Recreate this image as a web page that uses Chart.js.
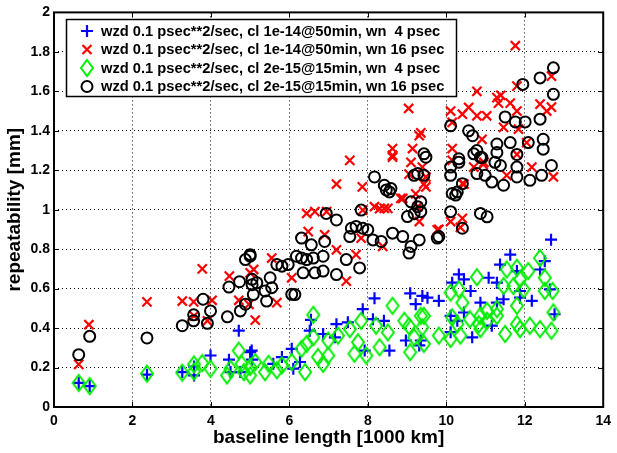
<!DOCTYPE html>
<html>
<head>
<meta charset="utf-8">
<script src="https://cdn.jsdelivr.net/npm/chart.js@4.4.0/dist/chart.umd.min.js"></script>
<style>
  body { margin: 0; background: #fff; }
</style>
</head>
<body>
<canvas id="repet" width="617" height="453"></canvas>
<script>
// series labels (legend)
const seriesLabels = [
  "wzd 0.1 psec**2/sec, cl 1e-14@50min, wn  4 psec",
  "wzd 0.1 psec**2/sec, cl 1e-14@50min, wn 16 psec",
  "wzd 0.1 psec**2/sec, cl 2e-15@15min, wn  4 psec",
  "wzd 0.1 psec**2/sec, cl 2e-15@15min, wn 16 psec"
];
const xTicks = [0, 2, 4, 6, 8, 10, 12, 14];
const yTicks = [0, 0.2, 0.4, 0.6, 0.8, 1, 1.2, 1.4, 1.6, 1.8, 2];

// blue +  (cl 1e-14, wn 4)
const plusX = [0.63,0.91,2.37,3.27,3.57,3.57,3.99,4.46,4.5,4.71,4.75,5.0,5.05,5.04,5.59,5.81,6.06,6.1,6.27,6.52,
  6.55,6.86,7.16,7.2,7.49,7.87,7.92,8.13,8.17,8.41,8.55,8.97,9.08,9.22,9.31,9.39,9.35,9.52,9.81,10.11,
  10.11,10.15,10.28,10.32,10.45,10.45,10.62,10.66,10.87,11.08,11.16,11.29,11.29,11.37,11.46,11.63,11.8,11.88,11.88,12.18,
  12.39,12.51,12.64,12.67,12.76];
const plusY = [0.122,0.106,0.164,0.177,0.16,0.205,0.261,0.24,0.177,0.387,0.177,0.278,0.24,0.286,0.219,0.253,0.295,0.194,0.228,0.387,
  0.442,0.37,0.353,0.42,0.429,0.496,0.286,0.445,0.551,0.437,0.286,0.337,0.576,0.521,0.312,0.563,0.337,0.554,0.538,0.462,
  0.379,0.63,0.437,0.672,0.647,0.479,0.588,0.353,0.529,0.655,0.412,0.63,0.529,0.722,0.546,0.772,0.689,0.588,0.554,0.538,
  0.697,0.739,0.596,0.848,0.47];

// red x  (cl 1e-14, wn 16)
const crossX = [0.63,0.89,2.37,3.27,3.56,3.57,3.78,3.91,4.03,4.47,4.71,4.97,5.0,5.09,5.13,5.55,5.68,6.06,6.44,6.48,
  6.65,6.9,6.95,7.2,7.2,7.45,7.54,7.7,7.83,7.86,7.87,8.17,8.3,8.38,8.42,8.51,8.63,8.63,8.63,8.84,
  8.89,9.04,9.05,9.1,9.14,9.22,9.27,9.31,9.31,9.35,9.39,9.43,9.48,9.48,9.77,9.81,10.11,10.11,10.15,10.15,
  10.15,10.36,10.41,10.41,10.41,10.45,10.57,10.7,10.78,10.78,10.91,10.94,10.96,11.03,11.29,11.33,11.39,11.46,11.54,11.63,
  11.76,11.8,11.8,11.8,11.84,12.05,12.18,12.39,12.56,12.68,12.68,12.73];
const crossY = [0.216,0.417,0.533,0.537,0.533,0.462,0.70,0.437,0.541,0.663,0.541,0.52,0.68,0.697,0.44,0.755,0.529,0.655,0.981,0.889,
  0.99,0.873,0.99,1.13,0.797,0.638,1.25,0.772,0.856,1.116,0.998,1.015,1.005,0.814,1.007,1.007,1.31,1.275,1.266,1.057,
  1.057,1.513,1.18,1.24,1.31,1.08,1.015,1.375,0.94,1.39,1.216,1.13,1.116,1.166,0.898,0.9,0.94,1.5,1.442,1.31,
  1.25,0.91,0.956,1.484,1.132,1.13,1.518,1.216,1.6,1.476,1.357,1.23,1.24,1.476,1.568,1.54,1.58,1.417,1.174,1.54,
  1.831,1.626,1.5,1.28,1.408,1.34,1.216,1.535,1.5,1.677,1.52,1.166];

// green diamond  (cl 2e-15, wn 4)
const diamondX = [0.63,0.91,2.37,3.27,3.57,3.57,3.78,3.99,4.41,4.5,4.71,4.78,4.84,5.0,5.0,5.13,5.38,5.47,5.68,5.81,
  6.06,6.31,6.4,6.44,6.61,6.61,6.73,6.86,6.99,6.99,7.24,7.54,7.66,7.75,7.83,7.96,8.21,8.3,8.51,8.63,
  8.93,9.05,9.08,9.18,9.35,9.39,9.43,9.43,9.81,10.11,10.11,10.15,10.28,10.32,10.36,10.41,10.6,10.78,10.83,10.87,
  10.87,11.04,11.04,11.29,11.29,11.46,11.5,11.54,11.71,11.8,11.8,11.8,11.88,11.88,11.97,12.09,12.13,12.39,12.39,12.51,
  12.51,12.68,12.71,12.73];
const diamondY = [0.122,0.106,0.169,0.174,0.216,0.18,0.223,0.194,0.16,0.194,0.286,0.219,0.177,0.203,0.16,0.228,0.177,0.219,0.186,0.211,
  0.228,0.295,0.177,0.32,0.353,0.467,0.253,0.219,0.337,0.261,0.362,0.395,0.27,0.328,0.437,0.261,0.412,0.303,0.378,0.513,
  0.437,0.41,0.278,0.353,0.462,0.404,0.462,0.32,0.362,0.58,0.345,0.454,0.42,0.596,0.362,0.529,0.445,0.658,0.42,0.462,
  0.395,0.487,0.437,0.496,0.462,0.613,0.37,0.697,0.613,0.706,0.513,0.42,0.647,0.395,0.596,0.689,0.412,0.755,0.395,0.655,
  0.588,0.387,0.588,0.479];

// black circle  (cl 2e-15, wn 16)
const circleX = [0.63,0.91,2.37,3.27,3.56,3.56,3.8,3.91,3.99,4.42,4.46,4.73,4.75,4.88,4.88,5.0,5.0,5.05,5.05,5.08,
  5.17,5.38,5.42,5.51,5.55,5.68,5.81,5.97,6.06,6.14,6.18,6.31,6.31,6.35,6.44,6.56,6.61,6.65,6.86,6.86,
  6.9,6.94,7.2,7.2,7.45,7.54,7.58,7.7,7.79,7.83,7.87,8.0,8.13,8.17,8.34,8.42,8.47,8.55,8.59,8.63,
  8.89,9.01,9.05,9.1,9.1,9.18,9.18,9.27,9.27,9.31,9.35,9.35,9.43,9.43,9.48,9.77,9.81,10.11,10.11,10.11,
  10.11,10.15,10.24,10.28,10.32,10.32,10.41,10.41,10.57,10.67,10.7,10.78,10.78,10.87,10.87,10.91,10.99,11.04,11.16,11.24,
  11.29,11.29,11.38,11.46,11.5,11.63,11.76,11.8,11.8,11.8,11.95,12.01,12.09,12.13,12.39,12.39,12.43,12.47,12.47,12.68,
  12.73,12.73];
const circleY = [0.265,0.358,0.35,0.412,0.437,0.467,0.546,0.424,0.487,0.457,0.608,0.635,0.487,0.747,0.521,0.772,0.764,0.62,0.647,0.57,
  0.63,0.588,0.537,0.655,0.605,0.722,0.714,0.722,0.571,0.57,0.764,0.856,0.755,0.68,0.747,0.822,0.755,0.68,0.764,0.689,
  0.839,0.981,0.948,0.671,0.747,0.864,0.906,0.915,0.705,0.998,0.906,0.898,0.847,1.166,0.839,1.124,1.1,1.09,1.107,0.881,
  0.864,0.965,0.78,1.04,0.814,1.174,0.98,1.015,1.183,0.847,0.99,1.04,1.283,1.174,1.266,0.856,0.864,1.425,1.216,1.174,
  0.99,1.082,1.074,1.09,1.258,1.24,0.906,1.132,1.4,1.375,1.283,1.3,1.183,1.266,0.981,1.264,1.174,0.964,1.14,1.24,
  1.333,1.29,1.224,1.124,1.47,1.34,1.445,1.28,1.216,1.166,1.635,1.445,1.34,1.149,1.459,1.668,1.174,1.357,1.307,1.224,
  1.719,1.585];

const toPoints = (xs, ys) => xs.map((x, i) => ({ x: x, y: ys[i] }));

// taller-than-wide diamond like matlab's
const diamondImg = document.createElement("canvas");
diamondImg.width = 16;
diamondImg.height = 20;
(function () {
  const c = diamondImg.getContext("2d");
  c.strokeStyle = "#00ee00";
  c.lineWidth = 2;
  c.beginPath();
  c.moveTo(8, 2); c.lineTo(14, 10); c.lineTo(8, 18); c.lineTo(2, 10);
  c.closePath();
  c.stroke();
})();

function marker(ctx, kind, x, y) {
  ctx.save();
  ctx.lineWidth = 2.2;
  ctx.beginPath();
  if (kind === 0) {
    ctx.strokeStyle = "#0000ff";
    ctx.moveTo(x - 6, y); ctx.lineTo(x + 6, y);
    ctx.moveTo(x, y - 6); ctx.lineTo(x, y + 6);
    ctx.stroke();
  } else if (kind === 1) {
    ctx.strokeStyle = "#ff0000";
    ctx.moveTo(x - 4.5, y - 4.5); ctx.lineTo(x + 4.5, y + 4.5);
    ctx.moveTo(x - 4.5, y + 4.5); ctx.lineTo(x + 4.5, y - 4.5);
    ctx.stroke();
  } else if (kind === 2) {
    ctx.drawImage(diamondImg, x - 8, y - 10);
  } else {
    ctx.strokeStyle = "#000";
    ctx.lineWidth = 2;
    ctx.arc(x, y, 5.5, 0, Math.PI * 2);
    ctx.stroke();
  }
  ctx.restore();
}

// frame, inward ticks on all 4 sides, legend box
const matlabAxes = {
  id: "matlabAxes",
  afterDraw(chart) {
    const ctx = chart.ctx;
    const a = chart.chartArea;
    const sx = chart.scales.x, sy = chart.scales.y;
    ctx.save();
    ctx.strokeStyle = "#000";
    ctx.lineWidth = 1;
    ctx.beginPath();
    xTicks.forEach((v) => {
      const px = Math.round(sx.getPixelForValue(v)) + 0.5;
      ctx.moveTo(px, a.bottom); ctx.lineTo(px, a.bottom - 5);
      ctx.moveTo(px, a.top); ctx.lineTo(px, a.top + 5);
    });
    yTicks.forEach((v) => {
      const py = Math.round(sy.getPixelForValue(v)) + 0.5;
      ctx.moveTo(a.left, py); ctx.lineTo(a.left + 5, py);
      ctx.moveTo(a.right, py); ctx.lineTo(a.right - 5, py);
    });
    ctx.stroke();
    ctx.lineWidth = 2;
    ctx.strokeRect(a.left, a.top, a.right - a.left, a.bottom - a.top);

    // legend
    const lx = 66, ly = 19, lw = 391, lh = 78;
    ctx.fillStyle = "#fff";
    ctx.fillRect(lx, ly, lw, lh);
    ctx.lineWidth = 1.5;
    ctx.strokeRect(lx + 0.5, ly + 0.5, lw - 1, lh - 1);
    ctx.font = "bold 14.7px Arial, 'Liberation Sans', sans-serif";
    ctx.fillStyle = "#000";
    ctx.textBaseline = "middle";
    seriesLabels.forEach((t, i) => {
      const ry = 31 + i * 18.5;
      marker(ctx, i, 87, ry);
      ctx.fillText(t, 101, ry + 0.5);
    });
    ctx.restore();
  }
};

const tickFont = { family: "Arial, 'Liberation Sans', sans-serif", size: 14, weight: "bold" };
const titleFont = { family: "Arial, 'Liberation Sans', sans-serif", size: 19, weight: "bold" };

new Chart(document.getElementById("repet"), {
  type: "scatter",
  data: {
    datasets: [
      {
        label: seriesLabels[0],
        data: toPoints(plusX, plusY),
        pointStyle: "cross",
        pointRadius: 6,
        borderColor: "#0000ff",
        borderWidth: 2.2,
        order: 3,
      },
      {
        label: seriesLabels[1],
        data: toPoints(crossX, crossY),
        pointStyle: "crossRot",
        pointRadius: 6.5,
        borderColor: "#ff0000",
        borderWidth: 2.2,
        order: 2,
      },
      {
        label: seriesLabels[2],
        data: toPoints(diamondX, diamondY),
        pointStyle: diamondImg,
        pointRadius: 7,
        borderColor: "#00ee00",
        order: 1,
      },
      {
        label: seriesLabels[3],
        data: toPoints(circleX, circleY),
        pointStyle: "circle",
        pointRadius: 5.5,
        borderColor: "#000000",
        backgroundColor: "rgba(0,0,0,0)",
        borderWidth: 2,
        order: 0,
      },
    ],
  },
  options: {
    responsive: false,
    animation: false,
    devicePixelRatio: 1,
    layout: { padding: { top: 9, right: 10, left: 0, bottom: 0 } },
    scales: {
      x: {
        type: "linear",
        min: 0,
        max: 14,
        afterBuildTicks: (s) => { s.ticks = xTicks.map((v) => ({ value: v })); },
        afterFit: (s) => { s.height = 46; },
        grid: { color: "#000", lineWidth: 1, drawTicks: false },
        border: { display: false, dash: [1, 3] },
        ticks: { color: "#000", font: tickFont, padding: 6, maxRotation: 0 },
        title: { display: true, text: "baseline length [1000 km]", color: "#000", font: titleFont, padding: { top: 0, bottom: 4 } },
      },
      y: {
        type: "linear",
        min: 0,
        max: 2,
        afterBuildTicks: (s) => { s.ticks = yTicks.map((v) => ({ value: v })); },
        afterFit: (s) => { s.width = 54; },
        grid: { color: "#000", lineWidth: 1, drawTicks: false },
        border: { display: false, dash: [1, 3] },
        ticks: {
          color: "#000",
          font: tickFont,
          padding: 4,
          callback: (v) => String(Number(v.toFixed(1))),
        },
        title: { display: true, text: "repeatability [mm]", color: "#000", font: titleFont, padding: { top: 3, bottom: 0 } },
      },
    },
    plugins: {
      legend: { display: false },
      tooltip: { enabled: false },
    },
  },
  plugins: [matlabAxes],
});
</script>
</body>
</html>
